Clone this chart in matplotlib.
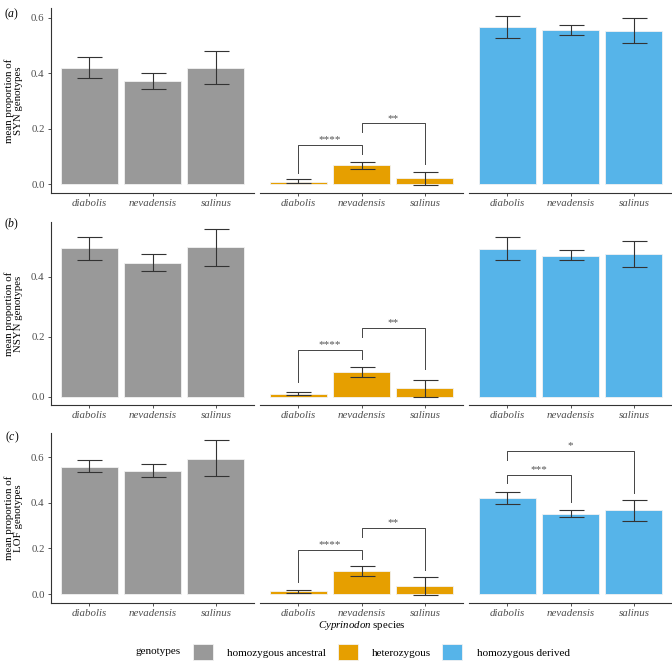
import matplotlib
matplotlib.use('Agg')
import matplotlib.pyplot as plt
from matplotlib.patches import Patch

plt.rcParams['font.family'] = ['Liberation Serif', 'DejaVu Serif']
plt.rcParams['mathtext.fontset'] = 'custom'
plt.rcParams['mathtext.rm'] = 'Liberation Serif'
plt.rcParams['mathtext.it'] = 'Liberation Serif:italic'

species = ['diabolis', 'nevadensis', 'salinus']
genotypes = ['homozygous ancestral', 'heterozygous', 'homozygous derived']
colours = ['#999999', '#E69F00', '#56B4E9']
classes = ['SYN', 'NSYN', 'LOF']
panel_tags = ['a', 'b', 'c']

# mean / lower / upper, per genotype (rows) and species (cols)
syn_mean = [[0.420, 0.372, 0.420], [0.009, 0.068, 0.021], [0.566, 0.557, 0.554]]
syn_low = [[0.382, 0.343, 0.360], [0.003, 0.053, -0.004], [0.527, 0.539, 0.508]]
syn_high = [[0.458, 0.400, 0.482], [0.017, 0.081, 0.043], [0.607, 0.575, 0.601]]

nsyn_mean = [[0.496, 0.448, 0.498], [0.011, 0.082, 0.029], [0.494, 0.471, 0.476]]
nsyn_low = [[0.457, 0.420, 0.436], [0.006, 0.066, -0.001], [0.456, 0.456, 0.432]]
nsyn_high = [[0.534, 0.477, 0.561], [0.017, 0.099, 0.056], [0.532, 0.488, 0.518]]

lof_mean = [[0.558, 0.541, 0.594], [0.012, 0.101, 0.035], [0.421, 0.351, 0.367]]
lof_low = [[0.534, 0.512, 0.516], [0.004, 0.079, -0.006], [0.396, 0.336, 0.319]]
lof_high = [[0.589, 0.572, 0.674], [0.020, 0.124, 0.075], [0.449, 0.370, 0.414]]

# (genotype, species i, species j, bracket y, leg end i, leg end j, label)
syn_brackets = [(1, 0, 1, 0.141, 0.039, 0.108, '****'),
                (1, 1, 2, 0.219, 0.189, 0.071, '**')]
nsyn_brackets = [(1, 0, 1, 0.156, 0.051, 0.128, '****'),
                 (1, 1, 2, 0.231, 0.201, 0.092, '**')]
lof_brackets = [(1, 0, 1, 0.193, 0.054, 0.156, '****'),
                (1, 1, 2, 0.289, 0.251, 0.105, '**'),
                (2, 0, 1, 0.522, 0.485, 0.402, '***'),
                (2, 0, 2, 0.626, 0.588, 0.444, '*')]

means = [syn_mean, nsyn_mean, lof_mean]
lows = [syn_low, nsyn_low, lof_low]
highs = [syn_high, nsyn_high, lof_high]
brackets = [syn_brackets, nsyn_brackets, lof_brackets]

W, H = 672, 662
fig = plt.figure(figsize=(W / 100, H / 100), dpi=100)

col_px = [(51, 254), (260, 463), (469, 672)]
row_px = [(8, 193), (222, 405), (433, 603)]
row_ylim = [(-0.0325, 0.636), (-0.027, 0.583), (-0.039, 0.706)]
tag_y = [14, 224, 437]

axis_col = '#333333'
tick_col = '#4d4d4d'
x = [1, 2, 3]

for r in range(3):
    top, bottom = row_px[r]
    for g in range(3):
        left, right = col_px[g]
        ax = fig.add_axes([left / W, 1 - bottom / H, (right - left) / W, (bottom - top) / H])
        m = means[r][g]
        lo = [m[i] - lows[r][g][i] for i in range(3)]
        hi = [highs[r][g][i] - m[i] for i in range(3)]
        ax.bar(x, m, width=0.9, color=colours[g], edgecolor='#f2f2f2', linewidth=0.6)
        ax.errorbar(x, m, yerr=[lo, hi], fmt='none', ecolor=axis_col,
                    elinewidth=0.8, capsize=9, capthick=0.8)
        for (bg, i, j, yb, li, lj, lab) in brackets[r]:
            if bg != g:
                continue
            ax.plot([x[i], x[i], x[j], x[j]], [li, yb, yb, lj], color='#444444', lw=0.7)
            ax.annotate(lab, ((x[i] + x[j]) / 2, yb), xytext=(0, 0.5),
                        textcoords='offset points', ha='center', va='bottom',
                        fontsize=8, color='#555555')
        ax.set_xlim(0.4, 3.6)
        ax.set_ylim(*row_ylim[r])
        ax.set_facecolor('none')
        for s in ['top', 'right']:
            ax.spines[s].set_visible(False)
        ax.spines['bottom'].set_color(axis_col)
        ax.spines['bottom'].set_linewidth(0.8)
        ax.set_xticks(x)
        ax.set_xticklabels(species, style='italic', fontsize=7.8, color=tick_col)
        ax.tick_params(axis='x', length=2.5, width=0.6, color=axis_col, pad=2)
        if g == 0:
            ax.spines['left'].set_color(axis_col)
            ax.spines['left'].set_linewidth(0.8)
            ax.set_yticks([0.0, 0.2, 0.4, 0.6])
            ax.set_yticklabels(['0.0', '0.2', '0.4', '0.6'], fontsize=7.8, color=tick_col)
            ax.tick_params(axis='y', length=2.5, width=0.6, color=axis_col, pad=2)
            ax.set_ylim(*row_ylim[r])
        else:
            ax.spines['left'].set_visible(False)
            ax.set_yticks([])
    fig.text(14 / W, 1 - (top + bottom) / 2 / H,
             'mean proportion of\n%s genotypes' % classes[r],
             rotation=90, ha='center', va='center', fontsize=7.8,
             linespacing=1.0)
    fig.text(12 / W, 1 - tag_y[r] / H, r'($\mathit{%s}$)' % panel_tags[r],
             ha='center', va='center', fontsize=8.5)

fig.text(362 / W, 1 - 626 / H, r'$\mathit{Cyprinodon}$ species',
         ha='center', va='center', fontsize=7.8)

fig.text(135 / W, 1 - 652 / H, 'genotypes', ha='left', va='center', fontsize=8)
handles = [Patch(facecolor=c, edgecolor='#f2f2f2', linewidth=0.6) for c in colours]
fig.legend(handles, genotypes, loc='center left', bbox_to_anchor=(193 / W, 1 - 652 / H),
           ncol=3, frameon=False, fontsize=8, handlelength=1.8, handleheight=1.8,
           handletextpad=1.3, columnspacing=1.0, borderpad=0, borderaxespad=0)

fig.savefig('out.png', dpi=100)
